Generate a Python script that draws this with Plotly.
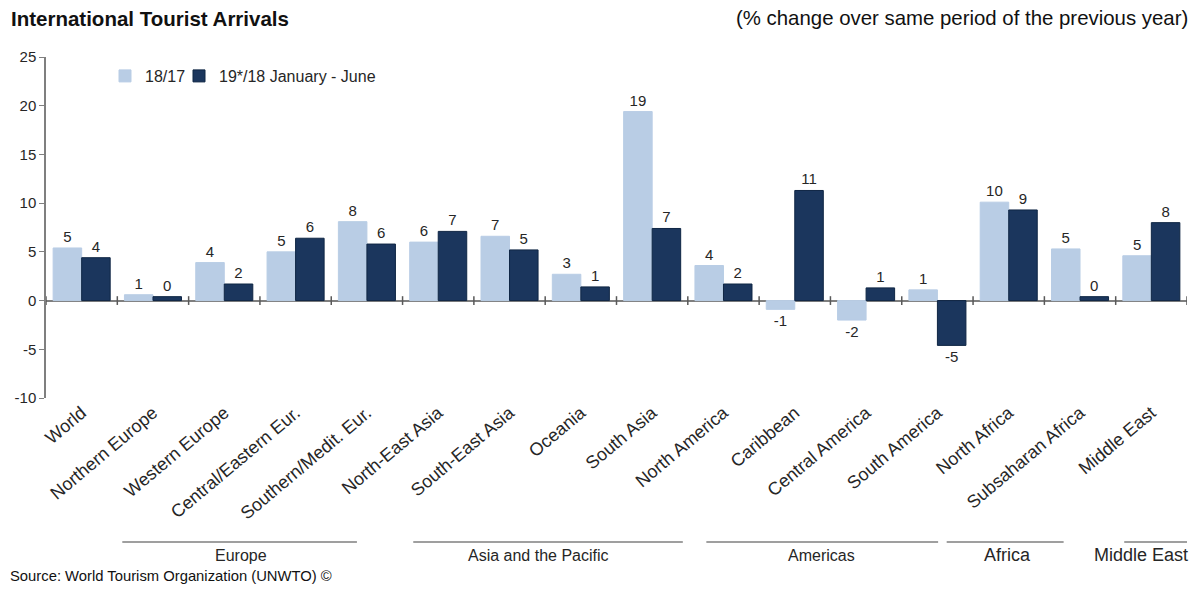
import plotly.graph_objs as go

categories = ['World', 'Northern Europe', 'Western Europe', 'Central/Eastern Eur.',
              'Southern/Medit. Eur.', 'North-East Asia', 'South-East Asia', 'Oceania',
              'South Asia', 'North America', 'Caribbean', 'Central America',
              'South America', 'North Africa', 'Subsaharan Africa', 'Middle East']
y_18_17 = [5.4, 0.6, 3.9, 5.0, 8.1, 6.0, 6.6, 2.7, 19.4, 3.6, -0.9, -2.0, 1.1, 10.1, 5.3, 4.6]
y_19_18 = [4.4, 0.4, 1.7, 6.4, 5.8, 7.1, 5.2, 1.4, 7.4, 1.7, 11.3, 1.3, -4.6, 9.3, 0.4, 8.0]
y_ticks = [-10, -5, 0, 5, 10, 15, 20, 25]
group_names = ['Europe', 'Asia and the Pacific', 'Americas', 'Africa', 'Middle East']

# layout of the region brackets under the labels (category units): line start, line end, label x, font size
group_layout = [(0.57, 3.86, 2.23, 16), (4.65, 8.43, 6.4, 16), (8.76, 12.01, 10.38, 16),
                (12.13, 13.77, 12.98, 18), (14.62, 15.6, 14.85, 18)]

FONT = 'Liberation Sans, Arial, sans-serif'
TXT = '#262626'

W, H = 1198, 589
M_L, M_R, M_T, M_B = 46, 11, 57, 191
plot_w = W - M_L - M_R
plot_h = H - M_T - M_B


def px_x(x):
    return (x - M_L) / plot_w


def px_y(y):
    return (H - M_B - y) / plot_h


fig = go.Figure()
fig.add_trace(go.Bar(
    x=categories, y=y_18_17, name='18/17', legend='legend',
    marker=dict(color='#b9cde5', line=dict(color='#b9cde5', width=1)),
    text=[f'{v:.0f}' for v in y_18_17], textposition='outside', cliponaxis=False,
    textfont=dict(size=15, color=TXT)
))
fig.add_trace(go.Bar(
    x=categories, y=y_19_18, name='19*/18 January - June', legend='legend2',
    marker=dict(color='#1b365d', line=dict(color='#0f2644', width=1)),
    text=[f'{v:.0f}' for v in y_19_18], textposition='outside', cliponaxis=False,
    textfont=dict(size=15, color=TXT)
))

shapes = []
# category boundary ticks across the zero line
for i in range(len(categories) + 1):
    shapes.append(dict(type='line', xref='x', yref='y', x0=i - 0.5, x1=i - 0.5,
                       y0=-0.45, y1=0.45, line=dict(color='#595959', width=1.5)))
annotations = []
for name, (x0, x1, xl, fs) in zip(group_names, group_layout):
    shapes.append(dict(type='line', xref='x', yref='paper', x0=x0, x1=x1,
                       y0=px_y(542), y1=px_y(542), line=dict(color='#7f7f7f', width=1.5)))
    annotations.append(dict(x=xl, y=px_y(555), xref='x', yref='paper',
                            text=name, showarrow=False, yanchor='middle',
                            font=dict(size=fs, color=TXT)))

annotations += [
    dict(text='<b>International Tourist Arrivals</b>', showarrow=False,
         xref='paper', yref='paper', x=px_x(9), y=px_y(18), xanchor='left', yanchor='middle',
         font=dict(size=20.5, color='#111')),
    dict(text='(% change over same period of the previous year)', showarrow=False,
         xref='paper', yref='paper', x=px_x(1190), y=px_y(18), xanchor='right', yanchor='middle',
         font=dict(size=20.4, color='#111')),
    dict(text='Source: World Tourism Organization (UNWTO) ©', showarrow=False,
         xref='paper', yref='paper', x=px_x(8), y=px_y(576), xanchor='left', yanchor='middle',
         font=dict(size=14.8, color='#111')),
]

legend_style = dict(orientation='h', yanchor='top', xanchor='left', y=px_y(59),
                    font=dict(size=16, color=TXT), bgcolor='rgba(0,0,0,0)', itemwidth=30)

fig.update_layout(
    width=W, height=H,
    margin=dict(l=M_L, r=M_R, t=M_T, b=M_B),
    barmode='group', bargap=0.2, bargroupgap=0,
    plot_bgcolor='white', paper_bgcolor='white',
    font=dict(family=FONT, size=15, color=TXT),
    showlegend=True,
    legend=dict(legend_style, x=px_x(105)),
    legend2=dict(legend_style, x=px_x(179)),
    xaxis=dict(tickangle=-40, showgrid=False, showline=False, ticks='',
               tickfont=dict(size=18, color=TXT), range=[-0.5, len(categories) - 0.5]),
    yaxis=dict(range=[-10, 25], tickvals=y_ticks, ticktext=[str(v) for v in y_ticks],
               showgrid=False, zeroline=True,
               zerolinecolor='#7f7f7f', zerolinewidth=1.5, showline=True,
               linecolor='#7f7f7f', linewidth=1.5, ticks='outside', ticklen=5,
               tickcolor='#7f7f7f', tickfont=dict(size=15, color=TXT)),
    shapes=shapes,
    annotations=annotations,
)

fig.write_html('out.html', config={'displayModeBar': False},
               post_script="document.body.style.margin='0';")
